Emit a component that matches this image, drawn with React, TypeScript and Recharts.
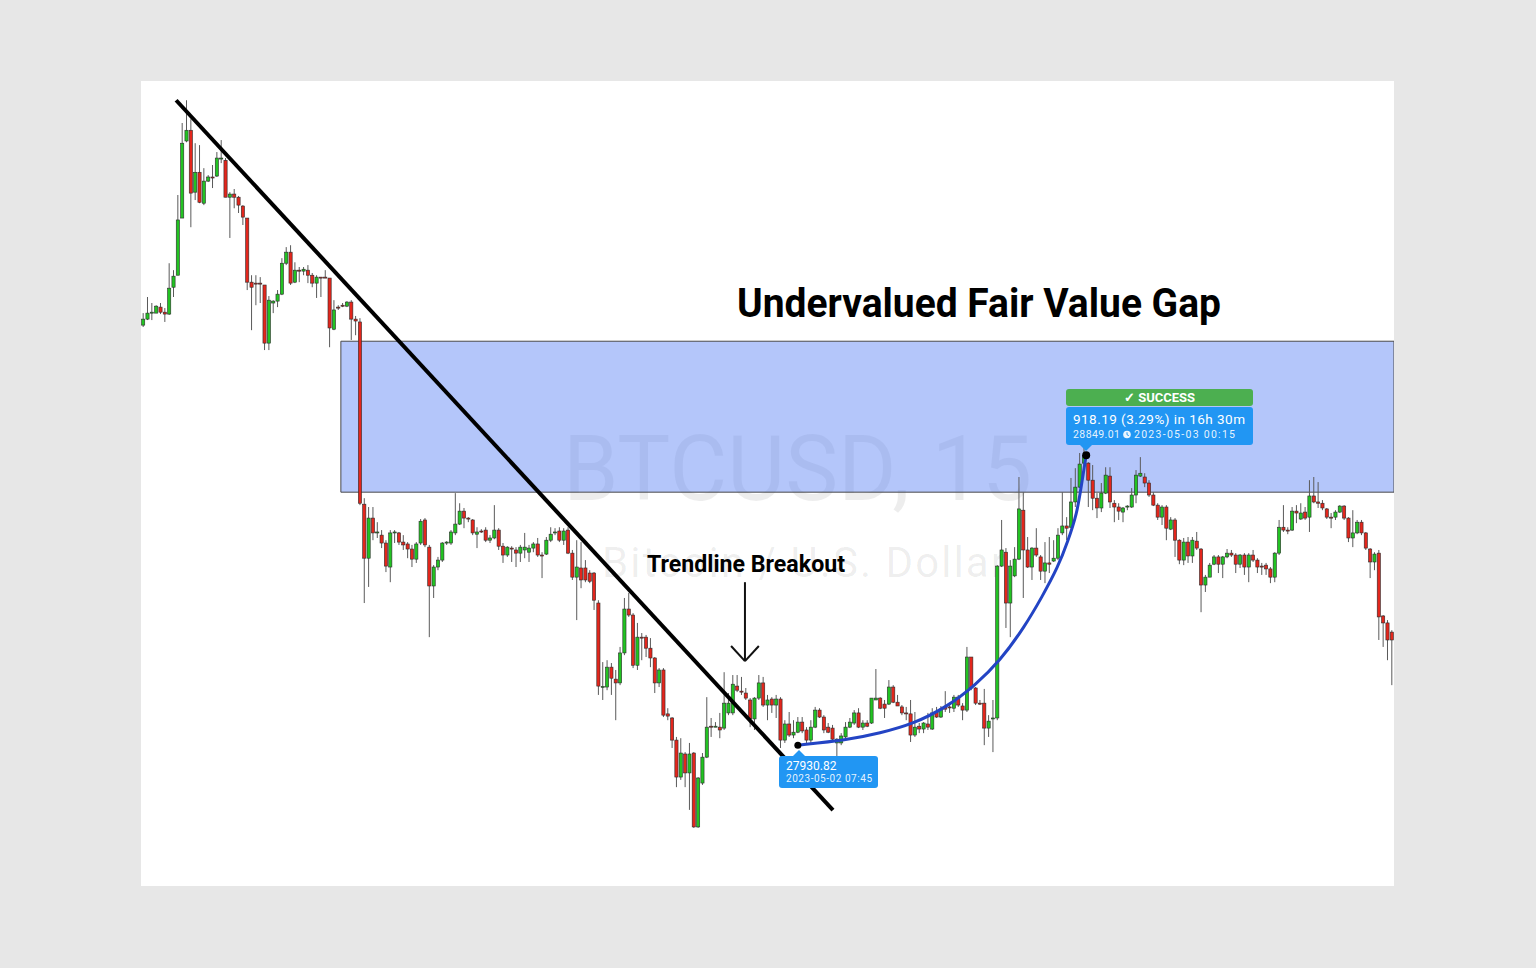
import { ComposedChart, Bar, Line, XAxis, YAxis, ReferenceArea, ReferenceLine, ReferenceDot } from "recharts";

// BTCUSD 15m candles: [open, high, low, close]
const OHLC: number[][] = [
  [29261, 29299, 29255, 29280], [29280, 29350, 29277, 29299], [29299, 29331, 29277, 29302], [29299, 29324, 29299, 29321], [29318, 29331, 29296, 29302], [29302, 29315, 29271, 29296],
  [29296, 29457, 29293, 29378], [29381, 29435, 29350, 29416], [29419, 29673, 29419, 29594], [29600, 29901, 29600, 29837], [29844, 29973, 29840, 29878], [29878, 29913, 29571, 29679],
  [29682, 29837, 29657, 29745], [29745, 29831, 29647, 29650], [29647, 29758, 29641, 29717], [29717, 29736, 29714, 29730], [29730, 29768, 29695, 29727], [29733, 29809, 29730, 29790],
  [29787, 29847, 29774, 29790], [29783, 29790, 29666, 29666], [29666, 29682, 29537, 29676], [29676, 29692, 29631, 29666], [29666, 29670, 29616, 29641], [29638, 29641, 29578, 29603],
  [29600, 29600, 29372, 29397], [29397, 29419, 29245, 29381], [29394, 29419, 29324, 29391], [29394, 29413, 29331, 29391], [29388, 29388, 29182, 29204], [29204, 29353, 29182, 29340],
  [29331, 29340, 29299, 29337], [29337, 29372, 29318, 29359], [29359, 29473, 29356, 29457], [29457, 29508, 29451, 29492], [29492, 29514, 29388, 29394], [29397, 29460, 29394, 29435],
  [29435, 29445, 29397, 29432], [29432, 29445, 29419, 29438], [29435, 29451, 29394, 29419], [29419, 29426, 29381, 29394], [29394, 29419, 29347, 29413], [29413, 29413, 29350, 29410],
  [29413, 29435, 29410, 29411], [29410, 29410, 29191, 29252], [29248, 29340, 29245, 29309], [29318, 29324, 29309, 29315], [29324, 29331, 29318, 29321], [29321, 29337, 29318, 29334],
  [29334, 29340, 29214, 29280], [29280, 29290, 29229, 29274], [29271, 29283, 28691, 28697], [28694, 28713, 28381, 28523], [28523, 28685, 28432, 28650], [28650, 28685, 28580, 28603],
  [28603, 28637, 28587, 28606], [28596, 28612, 28555, 28571], [28571, 28580, 28479, 28498], [28495, 28612, 28447, 28603], [28603, 28612, 28571, 28606], [28603, 28606, 28565, 28574],
  [28574, 28596, 28549, 28565], [28568, 28574, 28523, 28552], [28552, 28565, 28495, 28520], [28520, 28574, 28508, 28568], [28571, 28647, 28565, 28640], [28644, 28650, 28558, 28565],
  [28558, 28565, 28273, 28435], [28435, 28501, 28397, 28495], [28495, 28527, 28485, 28517], [28517, 28574, 28511, 28571], [28571, 28577, 28565, 28574], [28571, 28612, 28565, 28606],
  [28603, 28729, 28596, 28631], [28631, 28697, 28628, 28672], [28672, 28682, 28618, 28650], [28650, 28653, 28637, 28647], [28644, 28647, 28596, 28603], [28599, 28621, 28555, 28606],
  [28609, 28615, 28603, 28608], [28612, 28621, 28574, 28580], [28580, 28596, 28571, 28587], [28587, 28691, 28583, 28612], [28612, 28618, 28549, 28561], [28561, 28571, 28508, 28533],
  [28533, 28561, 28527, 28558], [28555, 28561, 28511, 28552], [28549, 28558, 28495, 28539], [28539, 28565, 28511, 28558], [28549, 28603, 28523, 28558], [28542, 28565, 28511, 28555],
  [28555, 28574, 28542, 28568], [28568, 28587, 28527, 28533], [28533, 28542, 28460, 28530], [28536, 28590, 28533, 28580], [28580, 28621, 28574, 28599], [28603, 28618, 28596, 28606],
  [28609, 28621, 28574, 28580], [28580, 28618, 28565, 28609], [28612, 28621, 28536, 28539], [28539, 28549, 28454, 28463], [28463, 28580, 28327, 28495], [28492, 28574, 28428, 28454],
  [28492, 28517, 28447, 28454], [28476, 28485, 28444, 28450], [28476, 28479, 28359, 28390], [28381, 28390, 28090, 28118], [28115, 28194, 28074, 28117], [28115, 28200, 28105, 28178],
  [28178, 28191, 28090, 28143], [28140, 28169, 28010, 28128], [28128, 28242, 28121, 28223], [28223, 28397, 28216, 28362], [28362, 28413, 28337, 28343], [28343, 28349, 28175, 28184],
  [28184, 28318, 28169, 28273], [28273, 28286, 28200, 28270], [28273, 28280, 28210, 28238], [28238, 28270, 28178, 28207], [28207, 28210, 28096, 28128], [28128, 28175, 28115, 28169],
  [28169, 28175, 28020, 28026], [28030, 28048, 28010, 28023], [28017, 28020, 27922, 27947], [27947, 27957, 27798, 27830], [27830, 27953, 27821, 27906], [27903, 27909, 27798, 27843],
  [27843, 27938, 27726, 27903], [27906, 27909, 27669, 27672], [27672, 27830, 27669, 27827], [27811, 27906, 27805, 27893], [27893, 28083, 27890, 27988], [27991, 28017, 27957, 27988],
  [27988, 28004, 27988, 27991], [27988, 28033, 27953, 27979], [27985, 28162, 27979, 28064], [28033, 28096, 28026, 28064], [28033, 28153, 28026, 28124], [28118, 28153, 28099, 28105],
  [28102, 28147, 28090, 28101], [28096, 28112, 28074, 28080], [28074, 28080, 27988, 28014], [28014, 28083, 27979, 28080], [28080, 28153, 28074, 28128], [28128, 28147, 28052, 28058],
  [28058, 28090, 28010, 28074], [28077, 28083, 28033, 28058], [28058, 28090, 28017, 28077], [28077, 28083, 27922, 27947], [27947, 28010, 27938, 27998], [27998, 28036, 27957, 27963],
  [27963, 28010, 27953, 27972], [27972, 28020, 27969, 28004], [28004, 28020, 27969, 27976], [27979, 27988, 27938, 27947], [27947, 28010, 27938, 27988], [27988, 28052, 27985, 28042],
  [28042, 28048, 28017, 28020], [28020, 28026, 27969, 27979], [27988, 28001, 27969, 27972], [27985, 27995, 27947, 27950], [27938, 27953, 27874, 27950], [27938, 27969, 27931, 27960],
  [27957, 28004, 27953, 27988], [27988, 28017, 27985, 28004], [28001, 28042, 27995, 28033], [28033, 28048, 27985, 27988], [27988, 28010, 27979, 28001], [28001, 28010, 27988, 27991],
  [28001, 28080, 27998, 28080], [28074, 28172, 28074, 28080], [28080, 28083, 28045, 28048], [28061, 28074, 28017, 28048], [28061, 28137, 28058, 28115], [28115, 28121, 28064, 28067],
  [28067, 28090, 28055, 28055], [28052, 28058, 28026, 28033], [28033, 28052, 28010, 28030], [28030, 28074, 27941, 27963], [27963, 28036, 27957, 27988], [27991, 28001, 27969, 27982],
  [27982, 28004, 27969, 28001], [27998, 28033, 27979, 27988], [27982, 28048, 27979, 28033], [28036, 28052, 28017, 28020], [28020, 28055, 28017, 28045], [28052, 28102, 28036, 28045],
  [28052, 28058, 28033, 28051], [28048, 28090, 28036, 28083], [28083, 28090, 28052, 28058], [28055, 28064, 28010, 28042], [28042, 28242, 28036, 28210], [28210, 28210, 28105, 28112],
  [28112, 28115, 28058, 28064], [28064, 28074, 28058, 28063], [28064, 28109, 27931, 27985], [27985, 28026, 27957, 28007], [28014, 28074, 27909, 28017], [28017, 28501, 28010, 28498],
  [28498, 28644, 28495, 28549], [28542, 28555, 28302, 28381], [28381, 28517, 28273, 28498], [28467, 28558, 28463, 28520], [28520, 28780, 28517, 28679], [28675, 28732, 28397, 28549],
  [28549, 28590, 28492, 28495], [28495, 28558, 28454, 28555], [28555, 28618, 28527, 28533], [28527, 28533, 28454, 28482], [28482, 28574, 28444, 28508], [28508, 28590, 28476, 28504],
  [28514, 28580, 28511, 28523], [28523, 28618, 28517, 28596], [28603, 28732, 28596, 28625], [28625, 28653, 28580, 28618], [28621, 28777, 28618, 28701], [28701, 28808, 28685, 28748],
  [28748, 28856, 28745, 28821], [28824, 28872, 28818, 28849], [28824, 28827, 28685, 28770], [28770, 28818, 28675, 28713], [28713, 28729, 28650, 28682], [28682, 28761, 28669, 28729],
  [28729, 28811, 28726, 28786], [28783, 28811, 28682, 28701], [28697, 28707, 28637, 28685], [28685, 28697, 28644, 28672], [28669, 28685, 28637, 28682], [28685, 28691, 28675, 28688],
  [28685, 28745, 28682, 28723], [28723, 28802, 28697, 28786], [28783, 28843, 28780, 28792], [28780, 28792, 28748, 28761], [28761, 28770, 28717, 28723], [28723, 28732, 28688, 28691],
  [28691, 28697, 28644, 28653], [28653, 28691, 28628, 28685], [28685, 28691, 28580, 28618], [28615, 28653, 28612, 28644], [28644, 28650, 28527, 28580], [28580, 28583, 28504, 28517],
  [28517, 28587, 28501, 28574], [28574, 28590, 28508, 28530], [28530, 28590, 28508, 28580], [28577, 28606, 28549, 28555], [28552, 28555, 28352, 28438], [28438, 28470, 28416, 28463],
  [28463, 28508, 28463, 28501], [28504, 28533, 28501, 28527], [28527, 28533, 28476, 28504], [28504, 28530, 28460, 28527], [28527, 28552, 28523, 28539], [28539, 28549, 28527, 28533],
  [28533, 28539, 28476, 28504], [28504, 28536, 28492, 28533], [28533, 28539, 28470, 28495], [28495, 28539, 28447, 28533], [28533, 28549, 28511, 28517], [28517, 28523, 28476, 28495],
  [28498, 28508, 28470, 28495], [28501, 28508, 28470, 28489], [28489, 28495, 28444, 28463], [28463, 28542, 28447, 28539], [28539, 28644, 28533, 28621], [28621, 28691, 28606, 28612],
  [28612, 28621, 28599, 28611], [28612, 28685, 28609, 28672], [28672, 28691, 28634, 28666], [28647, 28697, 28644, 28666], [28669, 28685, 28644, 28650], [28653, 28770, 28606, 28720],
  [28720, 28780, 28697, 28701], [28701, 28764, 28682, 28697], [28697, 28707, 28675, 28682], [28679, 28682, 28647, 28653], [28653, 28666, 28618, 28650], [28653, 28675, 28644, 28669],
  [28669, 28691, 28666, 28688], [28688, 28691, 28644, 28650], [28650, 28653, 28574, 28587], [28587, 28675, 28558, 28603], [28603, 28644, 28599, 28637], [28637, 28644, 28596, 28603],
  [28603, 28606, 28549, 28555], [28552, 28555, 28460, 28511], [28511, 28542, 28485, 28536], [28539, 28549, 28264, 28337], [28340, 28343, 28242, 28318], [28318, 28327, 28200, 28264],
  [28289, 28295, 28121, 28264],
];

// price window shown on the chart
const PRICE_MIN = 27485;
const PRICE_MAX = 30034;

// fair value gap zone
const FVG_START = 45.6;
const FVG_LOW = 28732;
const FVG_HIGH = 29210;

// descending trendline (bar index, price)
const TREND_X = [7.6, 159.1];
const TREND_P = [29973, 27725];

// breakout arrow
const ARROW_X = [135.6, 138.8, 142.0];
const ARROW_P = [28447, 28197, 28245];

// rounded move from the low to the target
const CURVE_X = [151.0, 162.3, 169.95, 177.6, 185.4, 191.9, 197.6, 203.4, 207.3, 211.0, 213.3, 215.4, 216.3, 217.5];
const CURVE_P = [27931, 27947, 27969, 27998, 28052, 28121, 28197, 28308, 28400, 28495, 28577, 28666, 28745, 28849];

const LOW_PRICE = 27930.82;
const TARGET_PRICE = 28849.01;

const GREEN = "#22c322";
const RED = "#e3261c";

const candles = OHLC.map(([o, h, l, c], i) => ({ i, o, h, l, c, range: [l, h] }));
const curve = CURVE_X.map((x, k) => ({ i: x, p: CURVE_P[k] }));

function Candle(props: any) {
  const { x, y, width, height, payload } = props;
  if (!payload) return null;
  const { o, h, l, c } = payload;
  const top = Math.min(y, y + height);
  const span = Math.abs(height);
  const k = h - l > 0 ? span / (h - l) : 0;
  const cx = x + width / 2;
  const bodyTop = top + (h - Math.max(o, c)) * k;
  const bodyH = Math.max(Math.abs(o - c) * k, 1);
  return (
    <g>
      <line x1={cx} x2={cx} y1={top} y2={top + span} stroke="#5a5a5a" strokeWidth={1} />
      <rect x={cx - 1.6} y={bodyTop} width={3.2} height={bodyH}
        fill={c >= o ? GREEN : RED} stroke="#2b2b2b" strokeWidth={0.6} />
    </g>
  );
}

export default function App() {
  return (
    <div style={{ position: "absolute", left: 0, top: 0, width: 1536, height: 968, background: "#e7e7e7", overflow: "hidden" }}>
      <div style={{ position: "absolute", left: 141, top: 81, width: 1253, height: 805, background: "#fff" }} />

      <svg width={1536} height={968} style={{ position: "absolute", left: 0, top: 0 }}>
        <text x={563} y={500} fontFamily="Roboto" fontSize={91} fill="#000" fillOpacity={0.07}
          textLength={469} lengthAdjust="spacingAndGlyphs">BTCUSD, 15</text>
        <text x={602} y={577} fontFamily="Roboto" fontSize={42} fill="#000" fillOpacity={0.07}
          textLength={403} lengthAdjust="spacing">Bitcoin / U.S. Dollar</text>
      </svg>

      <div style={{ position: "absolute", left: 141, top: 81 }}>
        <ComposedChart width={1253} height={805} data={candles} margin={{ top: 0, right: 0, bottom: 0, left: 0 }}>
          <XAxis type="number" dataKey="i" domain={[-0.5, OHLC.length - 0.5]} allowDataOverflow hide />
          <YAxis type="number" domain={[PRICE_MIN, PRICE_MAX]} allowDataOverflow hide />
          <ReferenceArea x1={FVG_START} x2={OHLC.length - 0.5} y1={FVG_LOW} y2={FVG_HIGH}
            fill="rgb(88,128,244)" fillOpacity={0.45} stroke="#4a4a4a" strokeWidth={1} ifOverflow="visible" />
          <Bar dataKey="range" barSize={3} shape={Candle} isAnimationActive={false} />
          <ReferenceLine segment={[{ x: TREND_X[0], y: TREND_P[0] }, { x: TREND_X[1], y: TREND_P[1] }]}
            stroke="#000" strokeWidth={4} ifOverflow="visible" />
          <ReferenceLine segment={[{ x: ARROW_X[1], y: ARROW_P[0] }, { x: ARROW_X[1], y: ARROW_P[1] }]}
            stroke="#111" strokeWidth={2} ifOverflow="visible" />
          <ReferenceLine segment={[{ x: ARROW_X[0], y: ARROW_P[2] }, { x: ARROW_X[1], y: ARROW_P[1] }]}
            stroke="#111" strokeWidth={2} ifOverflow="visible" />
          <ReferenceLine segment={[{ x: ARROW_X[2], y: ARROW_P[2] }, { x: ARROW_X[1], y: ARROW_P[1] }]}
            stroke="#111" strokeWidth={2} ifOverflow="visible" />
          <Line data={curve} dataKey="p" type="basis" stroke="#2344c4" strokeWidth={3}
            dot={false} activeDot={false} isAnimationActive={false} />
          <ReferenceDot x={CURVE_X[0]} y={LOW_PRICE} r={3.5} fill="#000" stroke="none" ifOverflow="visible" />
          <ReferenceDot x={CURVE_X[CURVE_X.length - 1]} y={TARGET_PRICE} r={4} fill="#000" stroke="none" ifOverflow="visible" />
        </ComposedChart>
      </div>

      <svg width={1536} height={968} style={{ position: "absolute", left: 0, top: 0, pointerEvents: "none" }}>
        <text x={737} y={317} fontFamily="Roboto" fontWeight={700} fontSize={40} fill="#000"
          textLength={484} lengthAdjust="spacingAndGlyphs">Undervalued Fair Value Gap</text>
        <text x={647} y={572} fontFamily="Roboto" fontWeight={700} fontSize={23} fill="#000"
          textLength={198} lengthAdjust="spacingAndGlyphs">Trendline Breakout</text>

        <rect x={779} y={756} width={99} height={32} rx={3} fill="#2196f3" />
        <path d="M793 756 L799 750 L805 756 Z" fill="#2196f3" />
        <text x={786} y={770} fontFamily="Roboto" fontSize={12} fill="#fff">27930.82</text>
        <text x={786} y={782} fontFamily="Roboto" fontSize={10} fill="#fff" fillOpacity={0.9}
          textLength={86} lengthAdjust="spacing">2023-05-02 07:45</text>

        <rect x={1066} y={389} width={187} height={17} rx={3} fill="#4caf50" />
        <text x={1159.5} y={402} textAnchor="middle" fontFamily="Roboto" fontWeight={700} fontSize={13} fill="#fff">✓ SUCCESS</text>
        <rect x={1066} y={407} width={187} height={38} rx={3} fill="#2196f3" />
        <path d="M1080 445 L1086 451 L1092 445 Z" fill="#2196f3" />
        <text x={1073} y={424} fontFamily="Roboto" fontSize={13.5} fill="#fff"
          textLength={172} lengthAdjust="spacing">918.19 (3.29%) in 16h 30m</text>
        <text x={1073} y={438} fontFamily="Roboto" fontSize={10.5} fill="#fff" fillOpacity={0.9}
          textLength={47} lengthAdjust="spacing">28849.01</text>
        <circle cx={1127} cy={434.5} r={3.8} fill="#fff" fillOpacity={0.9} />
        <path d="M1127 432.3 L1127 434.7 L1128.8 435.6" stroke="#2196f3" strokeWidth={1} fill="none" />
        <text x={1134} y={438} fontFamily="Roboto" fontSize={10.5} fill="#fff" fillOpacity={0.9}
          textLength={101} lengthAdjust="spacing">2023-05-03  00:15</text>
      </svg>
    </div>
  );
}
